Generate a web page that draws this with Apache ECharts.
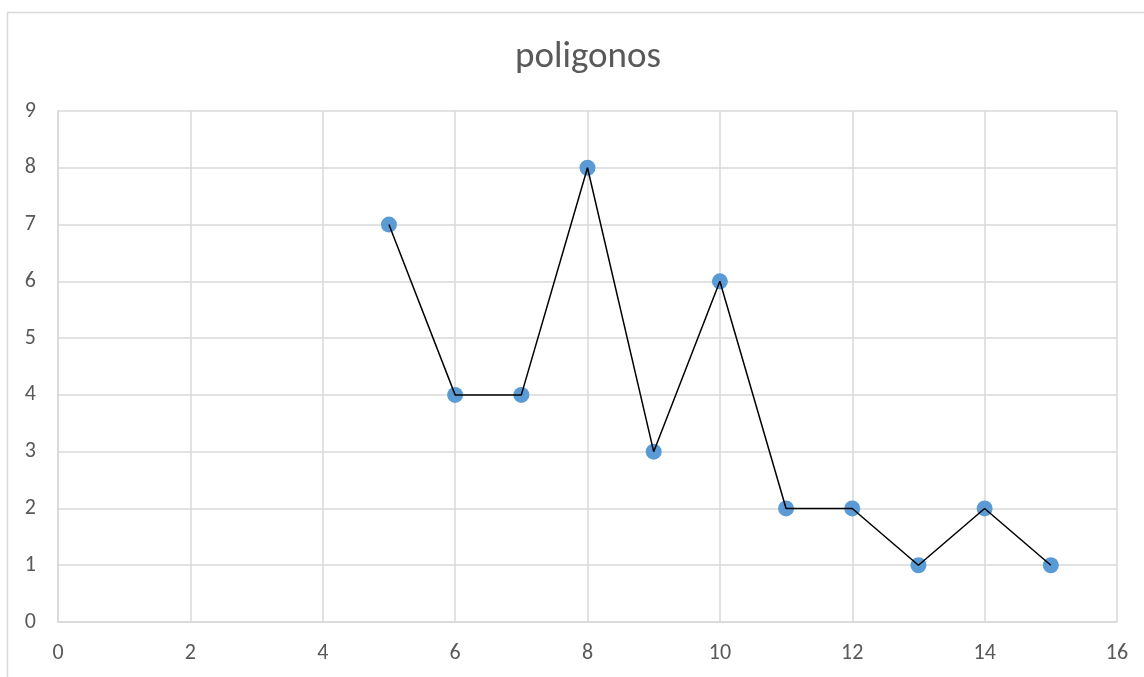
<!DOCTYPE html>
<html>
<head>
<meta charset="utf-8">
<script src="https://cdn.jsdelivr.net/npm/echarts@6/dist/echarts.min.js"></script>
<style>
  html, body { margin: 0; padding: 0; background: #fff; }
  #chart { width: 1144px; height: 677px; }
</style>
</head>
<body>
<div id="chart"></div>
<script>
  // datos
  const xValues = [5, 6, 7, 8, 9, 10, 11, 12, 13, 14, 15]
  const yValues = [7, 4, 4, 8, 3, 6, 2, 2, 1, 2, 1]
  const titleText = 'poligonos'

  const points = xValues.map((x, i) => [x, yValues[i]])

  const chart = echarts.init(document.getElementById('chart'))
  const labelColor = '#595959'
  const gridColor = '#d9d9d9'
  const font = 'Carlito, "Open Sans", "Noto Sans", sans-serif'

  chart.setOption({
    animation: false,
    backgroundColor: '#fff',
    title: {
      text: titleText,
      left: 583,
      textAlign: 'center',
      top: 34,
      textStyle: { color: labelColor, fontSize: 37, fontWeight: 'normal', fontFamily: font }
    },
    graphic: [{
      type: 'rect',
      shape: { x: 7.5, y: 12.5, width: 1200, height: 700 },
      style: { fill: 'none', stroke: gridColor, lineWidth: 1.5 },
      silent: true
    }],
    grid: { left: 58, top: 111, right: 27, bottom: 55 },
    xAxis: {
      type: 'value',
      min: 0, max: 16, interval: 2,
      axisLine: { show: true, lineStyle: { color: gridColor, width: 1.5 } },
      axisTick: { show: false },
      splitLine: { show: true, lineStyle: { color: gridColor, width: 1.5 } },
      axisLabel: { color: labelColor, fontSize: 22, fontFamily: font, margin: 20 }
    },
    yAxis: {
      type: 'value',
      min: 0, max: 9, interval: 1,
      axisLine: { show: true, lineStyle: { color: gridColor, width: 1.5 } },
      axisTick: { show: false },
      splitLine: { show: true, lineStyle: { color: gridColor, width: 1.5 } },
      axisLabel: { color: labelColor, fontSize: 22, fontFamily: font, margin: 22 }
    },
    series: [
      {
        type: 'scatter',
        data: points,
        symbolSize: 16,
        itemStyle: { color: '#5b9bd5', opacity: 1 },
        z: 2
      },
      {
        type: 'line',
        data: points,
        showSymbol: false,
        symbol: 'none',
        lineStyle: { color: '#000', width: 1.5 },
        z: 3
      }
    ]
  })
</script>
</body>
</html>
